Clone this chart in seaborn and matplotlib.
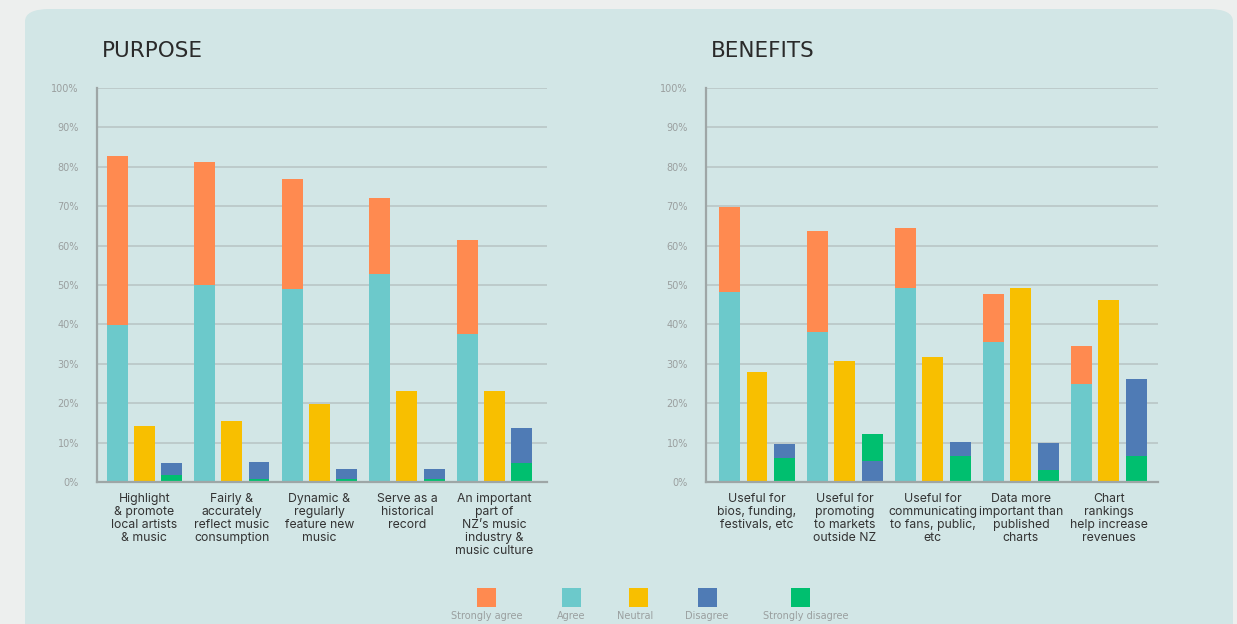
import numpy as np
import pandas as pd
import seaborn as sns
import matplotlib.pyplot as plt
from matplotlib.patches import FancyBboxPatch, Rectangle

series_names = ["Strongly agree", "Agree", "Neutral", "Disagree", "Strongly disagree"]
series_colors = ["#ff8a50", "#6cc9cb", "#f8bf00", "#4f7bb5", "#00bf6f"]

purpose_cats = ["Highlight\n& promote\nlocal artists\n& music",
                "Fairly &\naccurately\nreflect music\nconsumption",
                "Dynamic &\nregularly\nfeature new\nmusic",
                "Serve as a\nhistorical\nrecord",
                "An important\npart of\nNZ\u2019s music\nindustry &\nmusic culture"]
purpose_strongly_agree = [42.9, 31.0, 27.7, 19.3, 23.9]
purpose_agree = [39.8, 50.1, 49.1, 52.7, 37.6]
purpose_neutral = [14.1, 15.4, 19.7, 23.0, 23.0]
purpose_disagree = [2.8, 4.4, 2.7, 2.7, 8.7]
purpose_strongly_disagree = [1.9, 0.8, 0.7, 0.7, 4.9]
purpose_sd_at_bottom = [True, True, True, True, True]

benefit_cats = ["Useful for\nbios, funding,\nfestivals, etc",
                "Useful for\npromoting\nto markets\noutside NZ",
                "Useful for\ncommunicating\nto fans, public,\netc",
                "Data more\nimportant than\npublished\ncharts",
                "Chart\nrankings\nhelp increase\nrevenues"]
benefit_strongly_agree = [21.7, 25.6, 15.2, 12.2, 9.7]
benefit_agree = [48.2, 38.1, 49.3, 35.5, 24.9]
benefit_neutral = [28.0, 30.8, 31.6, 49.2, 46.1]
benefit_disagree = [3.6, 5.4, 3.5, 6.8, 19.6]
benefit_strongly_disagree = [6.0, 6.8, 6.6, 3.1, 6.6]
benefit_sd_at_bottom = [True, False, True, True, True]

color_of = dict(zip(series_names, series_colors))
slots = ["pos", "neu", "neg"]
PANEL = "#d2e6e6"
GRID = "#b9c6c6"
AXIS = "#9ea6a6"
WIDE = ["DejaVu Sans"]


def build_table(cats, sa, ag, neu, dis, sd, sd_low):
    rows = []
    for i, c in enumerate(cats):
        if sd_low[i]:
            low, high, lowv = "Strongly disagree", "Disagree", sd[i]
        else:
            low, high, lowv = "Disagree", "Strongly disagree", dis[i]
        rows += [
            dict(cat=c, slot="pos", layer="top", value=sa[i] + ag[i], series="Strongly agree"),
            dict(cat=c, slot="pos", layer="bottom", value=ag[i], series="Agree"),
            dict(cat=c, slot="neu", layer="top", value=neu[i], series="Neutral"),
            dict(cat=c, slot="neu", layer="bottom", value=neu[i], series="Neutral"),
            dict(cat=c, slot="neg", layer="top", value=dis[i] + sd[i], series=high),
            dict(cat=c, slot="neg", layer="bottom", value=lowv, series=low),
        ]
    return pd.DataFrame(rows)


def draw_panel(ax, cats, table, title, xlim):
    for layer in ["top", "bottom"]:
        sub = table[table.layer == layer]
        n_before = len(ax.containers)
        sns.barplot(data=sub, x="cat", y="value", hue="slot", order=cats, hue_order=slots,
                    dodge=True, width=0.93, gap=0.23, errorbar=None, legend=False,
                    linewidth=0, saturation=1, ax=ax)
        lookup = {(r.cat, r.slot): r.series for r in sub.itertuples()}
        for cont in ax.containers[n_before:]:
            for bar in cont:
                xc = bar.get_x() + bar.get_width() / 2
                ci = int(round(xc))
                off = xc - ci
                slot = "pos" if off < -0.1 else ("neg" if off > 0.1 else "neu")
                bar.set_facecolor(color_of[lookup[(cats[ci], slot)]])

    ax.set_facecolor("none")
    ax.set_xlim(*xlim)
    ax.set_ylim(0, 100)
    ax.set_yticks(np.arange(0, 101, 10))
    ax.set_yticklabels([f"{v}%" for v in range(0, 101, 10)], family=WIDE)
    ax.set_xlabel("")
    ax.set_ylabel("")
    ax.yaxis.grid(True, color=GRID, lw=1.2)
    ax.xaxis.grid(False)
    ax.set_axisbelow(True)
    for s in ["top", "right"]:
        ax.spines[s].set_visible(False)
    for s in ["left", "bottom"]:
        ax.spines[s].set_color(AXIS)
        ax.spines[s].set_linewidth(1.6)
    ax.tick_params(axis="y", length=0, pad=13, labelsize=7, labelcolor="#9a9f9f")
    ax.tick_params(axis="x", length=0, pad=8, labelsize=8.8, labelcolor="#333333")
    for lab in ax.get_xticklabels():
        lab.set_linespacing(1.12)
        lab.set_verticalalignment("top")
    ax.text(0.01, 1.095, title, transform=ax.transAxes, fontsize=15.5, family=WIDE,
            color="#2a2a2a", va="center", ha="left")


sns.set_theme(style="white")
plt.rcParams["font.family"] = ["Inter", "DejaVu Sans"]

W, H = 1237, 624
fig = plt.figure(figsize=(W / 100, H / 100), dpi=100)
fig.patch.set_facecolor("#edefee")
fig.add_artist(FancyBboxPatch((25 / W, -0.05), 1208 / W, (H - 9) / H + 0.05,
                              boxstyle="round,pad=0,rounding_size=0.02",
                              transform=fig.transFigure, facecolor=PANEL,
                              edgecolor="none", zorder=0))

ax1 = fig.add_axes([97 / W, 1 - 482 / H, 450 / W, 394 / H])
ax2 = fig.add_axes([706 / W, 1 - 482 / H, 452 / W, 394 / H])

purpose = build_table(purpose_cats, purpose_strongly_agree, purpose_agree, purpose_neutral,
                      purpose_disagree, purpose_strongly_disagree, purpose_sd_at_bottom)
benefits = build_table(benefit_cats, benefit_strongly_agree, benefit_agree, benefit_neutral,
                       benefit_disagree, benefit_strongly_disagree, benefit_sd_at_bottom)

draw_panel(ax1, purpose_cats, purpose, "PURPOSE", (-0.54, 4.6))
draw_panel(ax2, benefit_cats, benefits, "BENEFITS", (-0.58, 4.56))

# legend: squares with captions underneath
square_x = [487, 571, 638, 707, 800]
caption_x = [487, 571, 635, 707, 806]
for name, col, sx, tx in zip(series_names, series_colors, square_x, caption_x):
    fig.add_artist(Rectangle(((sx - 9.5) / W, 1 - 607 / H), 19 / W, 19 / H,
                             transform=fig.transFigure, facecolor=col, edgecolor="none"))
    fig.text(tx / W, 1 - 616 / H, name, ha="center", va="center", family=WIDE,
             fontsize=7, color="#9a9f9f")

fig.savefig("out.png", dpi=100, facecolor=fig.get_facecolor())
